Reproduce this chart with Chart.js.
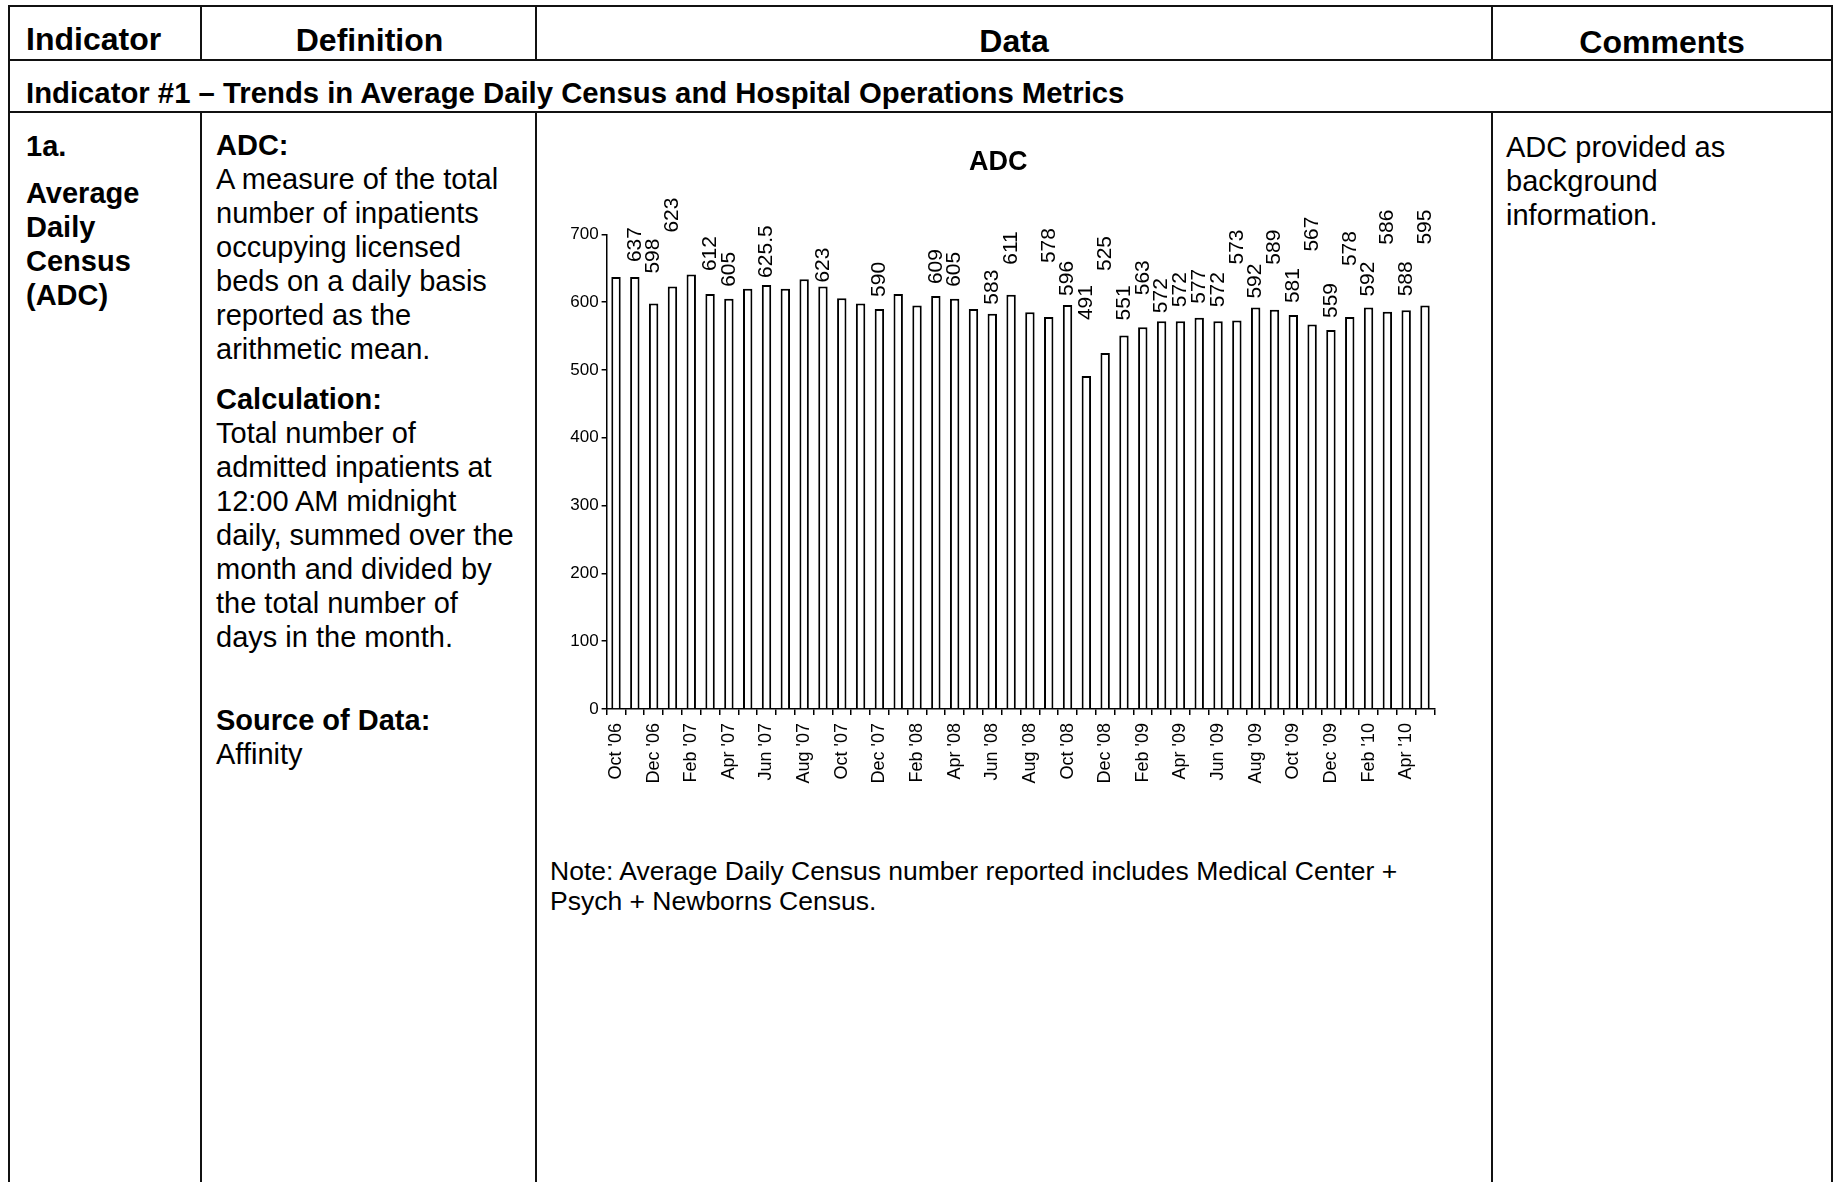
<!DOCTYPE html>
<html>
<head>
<meta charset="utf-8">
<script src="https://cdn.jsdelivr.net/npm/chart.js@4.4.1/dist/chart.umd.min.js"></script>
<style>
  html, body { margin: 0; padding: 0; background: #fff; }
  body { width: 1835px; height: 1182px; position: relative; overflow: hidden;
         font-family: "Liberation Sans", Arial, sans-serif; color: #000; }
  .ln { position: absolute; background: #111; }
  .t { position: absolute; white-space: nowrap; }
  .hdr { font-weight: bold; font-size: 32px; line-height: 40px; }
  .body29 { font-size: 29px; line-height: 34px; }
  .b { font-weight: bold; }
  #chartBox { position: absolute; left: 540px; top: 120px; width: 920px; height: 720px; }
</style>
</head>
<body>
<!-- table rules -->
<div class="ln" style="left:8px;top:5px;width:1825px;height:2px"></div>
<div class="ln" style="left:8px;top:59px;width:1825px;height:2px"></div>
<div class="ln" style="left:8px;top:111px;width:1825px;height:2px"></div>
<div class="ln" style="left:8px;top:5px;width:2px;height:1177px"></div>
<div class="ln" style="left:200px;top:5px;width:2px;height:55px"></div>
<div class="ln" style="left:200px;top:112px;width:2px;height:1070px"></div>
<div class="ln" style="left:535px;top:5px;width:2px;height:55px"></div>
<div class="ln" style="left:535px;top:112px;width:2px;height:1070px"></div>
<div class="ln" style="left:1491px;top:5px;width:2px;height:55px"></div>
<div class="ln" style="left:1491px;top:112px;width:2px;height:1070px"></div>
<div class="ln" style="left:1831px;top:5px;width:2px;height:1177px"></div>

<!-- header row -->
<div class="t hdr" style="left:26px;top:19px">Indicator</div>
<div class="t hdr" style="left:202px;width:335px;top:20px;text-align:center">Definition</div>
<div class="t hdr" style="left:537px;width:954px;top:21px;text-align:center">Data</div>
<div class="t hdr" style="left:1493px;width:338px;top:22px;text-align:center">Comments</div>

<!-- section row -->
<div class="t b" style="left:26px;top:73px;font-size:29.3px;line-height:40px">Indicator #1 – Trends in Average Daily Census and Hospital Operations Metrics</div>

<!-- indicator column -->
<div class="t body29 b" style="left:26px;top:129px">1a.</div>
<div class="t body29 b" style="left:26px;top:176px">Average<br>Daily<br>Census<br>(ADC)</div>

<!-- definition column -->
<div class="t body29" style="left:216px;top:128px">
  <div class="b">ADC:</div>
  <div>A measure of the total<br>number of inpatients<br>occupying licensed<br>beds on a daily basis<br>reported as the<br>arithmetic mean.</div>
  <div class="b" style="margin-top:16px">Calculation:</div>
  <div>Total number of<br>admitted inpatients at<br>12:00 AM midnight<br>daily, summed over the<br>month and divided by<br>the total number of<br>days in the month.</div>
  <div class="b" style="margin-top:49px">Source of Data:</div>
  <div>Affinity</div>
</div>

<!-- comments column -->
<div class="t body29" style="left:1506px;top:130px">ADC provided as<br>background<br>information.</div>

<!-- chart -->
<div id="chartBox"><canvas id="adc" width="920" height="720"></canvas></div>

<!-- note -->
<div class="t" style="left:550px;top:856px;font-size:26.5px;line-height:30px">Note: Average Daily Census number reported includes Medical Center +<br>Psych + Newborns Census.</div>

<script>
// ---- data ----
const chartTitle = 'ADC';
const categories = [
  "Oct '06","Nov '06","Dec '06","Jan '07","Feb '07","Mar '07","Apr '07","May '07","Jun '07","Jul '07","Aug '07","Sep '07",
  "Oct '07","Nov '07","Dec '07","Jan '08","Feb '08","Mar '08","Apr '08","May '08","Jun '08","Jul '08","Aug '08","Sep '08",
  "Oct '08","Nov '08","Dec '08","Jan '09","Feb '09","Mar '09","Apr '09","May '09","Jun '09","Jul '09","Aug '09","Sep '09",
  "Oct '09","Nov '09","Dec '09","Jan '10","Feb '10","Mar '10","Apr '10","May '10"
];
const adcValues = [
  637, 637, 598, 623, 641, 612, 605, 620, 625.5, 620, 634, 623,
  606, 598, 590, 612, 595, 609, 605, 590, 583, 611, 585, 578,
  596, 491, 525, 551, 563, 572, 572, 577, 572, 573, 592, 589,
  581, 567, 559, 578, 592, 586, 588, 595
];
// which bars carry a value label in the original (1 = shown)
const labelShown = [
  0,1,1,1,0,1,1,0,1,0,0,1,
  0,0,1,0,0,1,1,0,1,1,0,1,
  1,1,1,1,1,1,1,1,1,1,1,1,
  1,1,1,1,1,1,1,1
];
const yTicks = [0, 100, 200, 300, 400, 500, 600, 700];

// ---- label layout (px lift above bar top, as staggered in the original) ----
const labelLift = [
  0,12,27,51,0,20,9,0,4,0,0,1,
  0,0,9,0,0,9,9,0,6,27,0,51,
  6,53,79,12,29,5,11,11,11,53,6,42,
  9,70,9,48,8,64,11,58
];

const FONT = '"Liberation Sans", Arial, sans-serif';
Chart.defaults.font.family = FONT;
Chart.defaults.color = '#000';

const barLabelPlugin = {
  id: 'barLabels',
  afterDatasetsDraw(chart) {
    const meta = chart.getDatasetMeta(0);
    const ctx = chart.ctx;
    ctx.save();
    ctx.font = '21px ' + FONT;
    ctx.fillStyle = '#000';
    ctx.textAlign = 'left';
    ctx.textBaseline = 'middle';
    meta.data.forEach((bar, i) => {
      if (!labelShown[i]) return;
      ctx.save();
      ctx.translate(bar.x, bar.y - 3 - labelLift[i]);
      ctx.rotate(-Math.PI / 2);
      ctx.fillText(String(adcValues[i]), 0, 0);
      ctx.restore();
    });
    ctx.restore();
  }
};

new Chart(document.getElementById('adc'), {
  type: 'bar',
  data: {
    labels: categories,
    datasets: [{
      data: adcValues,
      backgroundColor: '#ffffff',
      borderColor: '#000000',
      borderWidth: 2,
      barPercentage: 0.5,
      categoryPercentage: 1
    }]
  },
  options: {
    responsive: false,
    animation: false,
    devicePixelRatio: 1,
    layout: { padding: { left: 22, right: 25.6, top: 0, bottom: 0 } },
    plugins: {
      legend: { display: false },
      tooltip: { enabled: false },
      title: {
        display: true, text: chartTitle, color: '#000',
        font: { family: FONT, size: 27, weight: 'bold' },
        padding: { top: 26, bottom: 56 }
      }
    },
    scales: {
      x: {
        offset: true,
        grid: { display: true, offset: true, drawOnChartArea: false, drawTicks: true, tickLength: 6, color: '#000', lineWidth: 1.5 },
        border: { display: true, color: '#000', width: 1.5 },
        ticks: {
          autoSkip: false, maxRotation: 90, minRotation: 90, padding: 8,
          color: '#000', font: { size: 18 },
          callback: (v, i) => (i % 2 === 0 ? categories[i] : '')
        },
        afterFit: s => { s.height = 131; }
      },
      y: {
        min: yTicks[0], max: yTicks[yTicks.length - 1],
        afterBuildTicks: s => { s.ticks = yTicks.map(v => ({ value: v })); },
        ticks: { color: '#000', font: { size: 17 }, padding: 3 },
        grid: { display: true, drawOnChartArea: false, tickLength: 5, color: '#000', lineWidth: 1.5 },
        border: { display: true, color: '#000', width: 1.5 },
        afterFit: s => { s.width = 44.6; }
      }
    }
  },
  plugins: [barLabelPlugin]
});
</script>
</body>
</html>
